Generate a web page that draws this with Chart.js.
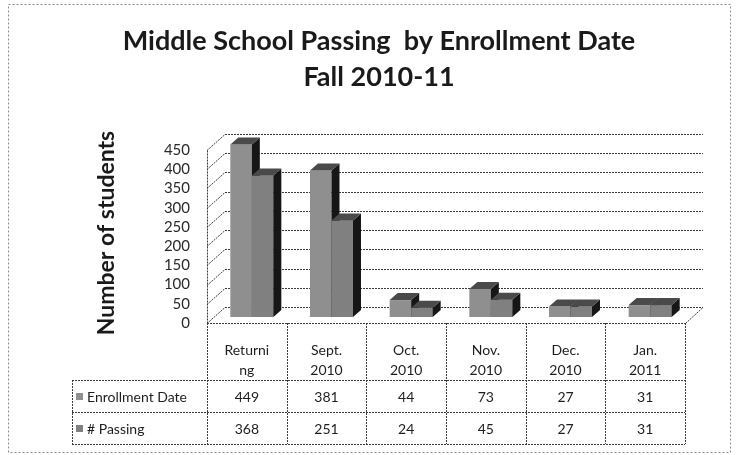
<!DOCTYPE html>
<html>
<head>
<meta charset="utf-8">
<script src="https://cdn.jsdelivr.net/npm/chart.js@4/dist/chart.umd.min.js"></script>
<style>
html,body{margin:0;padding:0;background:#fff;}
#wrap{width:737px;height:455px;position:relative;}
canvas{display:block;}
</style>
</head>
<body>
<div id="wrap"><canvas id="c" width="737" height="455"></canvas></div>
<script>
// ---- data ----
const titleLines = ["Middle School Passing  by Enrollment Date", "Fall 2010-11"];
const yAxisTitle = "Number of students";
const categories = [["Returni", "ng"], ["Sept.", "2010"], ["Oct.", "2010"], ["Nov.", "2010"], ["Dec.", "2010"], ["Jan.", "2011"]];
const seriesNames = ["Enrollment Date", "# Passing"];
const enrollment = [449, 381, 44, 73, 27, 31];
const passing = [368, 251, 24, 45, 27, 31];
const yMin = 0, yMax = 450, yStep = 50;

// ---- style / geometry ----
const FONT = "Lato, 'Open Sans', 'DejaVu Sans', sans-serif";
const SHIFT_X = 5, SHIFT_Y = 6;       // bars sit slightly behind the front floor edge
const DEPTH_X = 18, DEPTH_Y = -16;    // wall depth
const BAR_DX = 8, BAR_DY = -7;        // bar extrusion
const FRONT = ["#8f8f8f", "#808080"];
const SIDE = "#161616";
const TOP = "#4a4a4a";
const LINE = "#3a3a3a";
const TABLE = { headTop: 323, row1: 380, row2: 412, bottom: 444, legendLeft: 72 };

function dotted(ctx) { ctx.setLineDash([2, 1]); ctx.strokeStyle = LINE; ctx.lineWidth = 1; }
function line(ctx, x1, y1, x2, y2) { ctx.beginPath(); ctx.moveTo(x1, y1); ctx.lineTo(x2, y2); ctx.stroke(); }
function poly(ctx, pts, fill) { ctx.beginPath(); ctx.moveTo(pts[0][0], pts[0][1]); for (let i = 1; i < pts.length; i++) ctx.lineTo(pts[i][0], pts[i][1]); ctx.closePath(); ctx.fillStyle = fill; ctx.fill(); }

const wallsPlugin = {
  id: 'walls',
  beforeDraw(chart) {
    const ctx = chart.ctx;
    ctx.save();
    ctx.fillStyle = '#fff';
    ctx.fillRect(0, 0, chart.width, chart.height);
    ctx.setLineDash([2, 2]);
    ctx.strokeStyle = '#8a8a8a';
    ctx.strokeRect(8.5, 4.5, 722, 448);
    ctx.restore();
  },
  beforeDatasetsDraw(chart) {
    const ctx = chart.ctx, ys = chart.scales.y, a = chart.chartArea;
    const fl = a.left - SHIFT_X, fr = a.right - SHIFT_X;
    ctx.save();
    dotted(ctx);
    for (let v = yMin; v <= yMax; v += yStep) {
      const p = Math.round(ys.getPixelForValue(v)) + 0.5;
      const fy = p + SHIFT_Y, by = fy + DEPTH_Y;
      line(ctx, fl + DEPTH_X, by, fr + DEPTH_X, by);      // back wall gridline
      line(ctx, fl, fy, fl + DEPTH_X, by);                 // left wall diagonal
    }
    const topY = Math.round(ys.getPixelForValue(yMax)) + 0.5 + SHIFT_Y;
    const botY = Math.round(ys.getPixelForValue(yMin)) + 0.5 + SHIFT_Y;
    line(ctx, fl + 0.5, topY, fl + 0.5, botY);             // left wall front edge
    line(ctx, fr + 0.5, botY, fr + DEPTH_X, botY + DEPTH_Y); // floor right diagonal
    ctx.restore();
  },
  afterDatasetsDraw(chart) {
    const ctx = chart.ctx;
    const m0 = chart.getDatasetMeta(0), m1 = chart.getDatasetMeta(1);
    ctx.save();
    ctx.setLineDash([]);
    const faces = (el) => {
      const l = el.x - el.width / 2, r = el.x + el.width / 2, t = el.y, b = el.base;
      poly(ctx, [[r, t], [r + BAR_DX, t + BAR_DY], [r + BAR_DX, b + BAR_DY], [r, b]], SIDE);
      poly(ctx, [[l, t], [l + BAR_DX, t + BAR_DY], [r + BAR_DX, t + BAR_DY], [r, t]], TOP);
    };
    for (let i = 0; i < m0.data.length; i++) {
      faces(m0.data[i]);
      m1.data[i].draw(ctx, chart.chartArea);
      faces(m1.data[i]);
    }
    ctx.restore();
  },
  afterDraw(chart) {
    const ctx = chart.ctx, xs = chart.scales.x, a = chart.chartArea;
    const fl = a.left - SHIFT_X, fr = a.right - SHIFT_X;
    const colW = (a.right - a.left) / categories.length;
    ctx.save();
    // title
    ctx.fillStyle = '#1a1a1a';
    ctx.textAlign = 'center';
    ctx.textBaseline = 'middle';
    ctx.font = "bold 27px " + FONT;
    ctx.fillText(titleLines[0], 379, 41);
    ctx.fillText(titleLines[1], 379, 77);
    // y axis title
    ctx.save();
    ctx.translate(107, 233);
    ctx.rotate(-Math.PI / 2);
    ctx.font = "bold 23px " + FONT;
    ctx.fillStyle = '#1a1a1a';
    ctx.fillText(yAxisTitle, 0, 0);
    ctx.restore();
    // table lines
    dotted(ctx);
    const T = TABLE;
    line(ctx, fl, T.headTop + 0.5, fr, T.headTop + 0.5);
    [T.row1, T.row2, T.bottom].forEach(y => line(ctx, T.legendLeft, y + 0.5, fr, y + 0.5));
    line(ctx, T.legendLeft + 0.5, T.row1, T.legendLeft + 0.5, T.bottom);
    for (let k = 0; k <= categories.length; k++) {
      const x = Math.round(fl + k * colW) + 0.5;
      line(ctx, x, T.headTop, x, T.bottom);
    }
    // table text
    ctx.setLineDash([]);
    ctx.fillStyle = '#1e1e1e';
    ctx.font = "14px " + FONT;
    ctx.textAlign = 'center';
    const series = [enrollment, passing];
    for (let i = 0; i < categories.length; i++) {
      const cx = xs.getPixelForValue(i) - SHIFT_X;
      ctx.fillText(categories[i][0], cx, 350);
      ctx.fillText(categories[i][1], cx, 370);
      ctx.fillText(String(series[0][i]), cx, (T.row1 + T.row2) / 2 + 1);
      ctx.fillText(String(series[1][i]), cx, (T.row2 + T.bottom) / 2 + 1);
    }
    ctx.textAlign = 'left';
    const rowsY = [(T.row1 + T.row2) / 2 + 1, (T.row2 + T.bottom) / 2 + 1];
    for (let s = 0; s < 2; s++) {
      ctx.fillStyle = FRONT[s];
      ctx.fillRect(76, rowsY[s] - 4, 7, 7);
      ctx.fillStyle = '#1e1e1e';
      ctx.fillText(seriesNames[s], 87, rowsY[s]);
    }
    ctx.restore();
  }
};

new Chart(document.getElementById('c'), {
  type: 'bar',
  data: {
    labels: categories.map(c => c.join('')),
    datasets: [
      { label: seriesNames[0], data: enrollment, backgroundColor: FRONT[0], borderWidth: 0 },
      { label: seriesNames[1], data: passing, backgroundColor: FRONT[1], borderWidth: 0 }
    ]
  },
  options: {
    responsive: false,
    animation: false,
    devicePixelRatio: 1,
    categoryPercentage: 0.54,
    barPercentage: 1.0,
    layout: { padding: { top: 144, right: 47, bottom: 138, left: 0 } },
    plugins: { legend: { display: false }, title: { display: false }, tooltip: { enabled: false } },
    scales: {
      x: { display: false },
      y: {
        min: yMin, max: yMax,
        grid: { display: false, drawTicks: false },
        border: { display: false },
        ticks: { stepSize: yStep, autoSkip: false, labelOffset: SHIFT_Y, padding: 22, color: '#2a2a2a', font: { family: FONT, size: 15 } },
        afterFit(s) { s.width = 212; }
      }
    }
  },
  plugins: [wallsPlugin]
});
</script>
</body>
</html>
